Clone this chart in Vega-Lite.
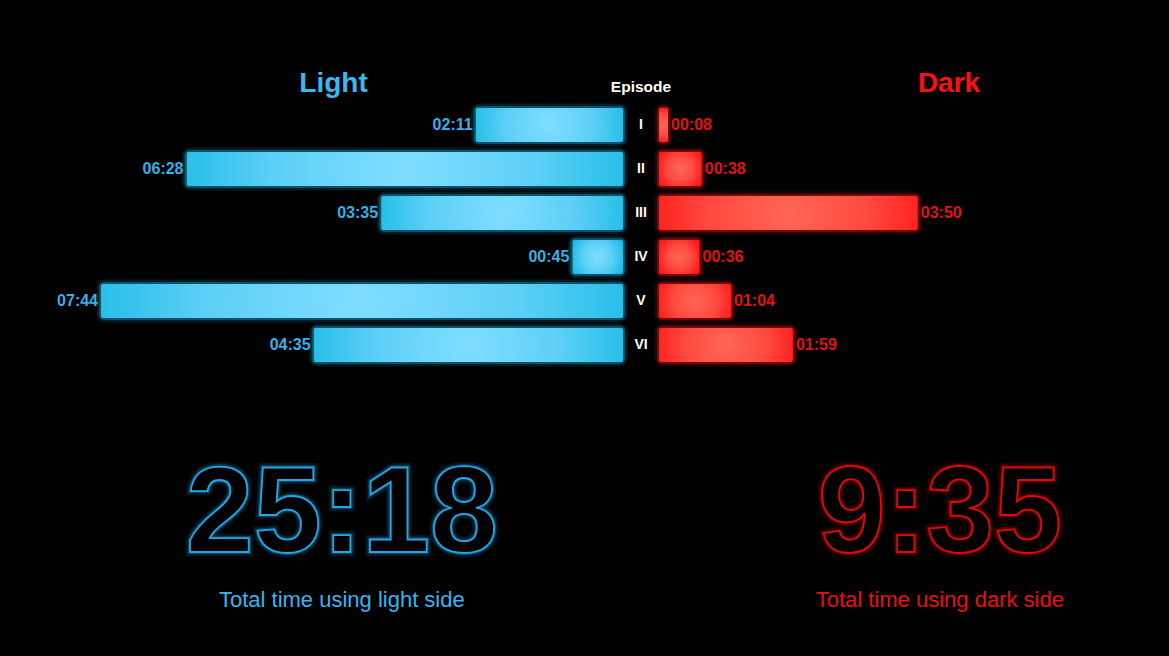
{
  "$schema": "https://vega.github.io/schema/vega-lite/v6.json",
  "background": "black",
  "padding": {"left": 38, "top": 70, "right": 0, "bottom": 0},
  "config": {
    "view": {"stroke": null},
    "font": "Liberation Sans",
    "title": {"fontWeight": "bold", "baseline": "alphabetic", "offset": 5, "anchor": "middle"}
  },
  "datasets": {
    "episodes": [
      {"episode": "I", "light": 131, "dark": 8, "light_time": "02:11", "dark_time": "00:08"},
      {"episode": "II", "light": 388, "dark": 38, "light_time": "06:28", "dark_time": "00:38"},
      {"episode": "III", "light": 215, "dark": 230, "light_time": "03:35", "dark_time": "03:50"},
      {"episode": "IV", "light": 45, "dark": 36, "light_time": "00:45", "dark_time": "00:36"},
      {"episode": "V", "light": 464, "dark": 64, "light_time": "07:44", "dark_time": "01:04"},
      {"episode": "VI", "light": 275, "dark": 119, "light_time": "04:35", "dark_time": "01:59"}
    ],
    "totals": [
      {"side": "Light", "total": "25:18", "caption": "Total time using light side"},
      {"side": "Dark", "total": "9:35", "caption": "Total time using dark side"}
    ]
  },
  "spacing": 0,
  "vconcat": [
    {
      "spacing": 0,
      "bounds": "flush",
      "hconcat": [
        {
          "width": 585,
          "height": 264,
          "data": {"name": "episodes"},
          "title": {"text": "Light", "color": "#3ab8f0", "fontSize": 28, "dx": 3},
          "encoding": {
            "y": {"field": "episode", "type": "nominal", "sort": null, "axis": null,
                  "scale": {"paddingInner": 0.23, "paddingOuter": 0.115}},
            "x": {"field": "light", "type": "quantitative", "axis": null,
                  "scale": {"domain": [0, 520], "reverse": true}}
          },
          "layer": [
            {"mark": {"type": "bar", "fillOpacity": 0, "stroke": "#1fb8ea", "strokeOpacity": 0.15, "strokeWidth": 9, "cornerRadius": 4}},
            {"mark": {"type": "bar", "fillOpacity": 0, "stroke": "#1fb8ea", "strokeOpacity": 0.35, "strokeWidth": 4, "cornerRadius": 3}},
            {"mark": {"type": "bar", "cornerRadius": 2,
              "color": {"gradient": "radial", "x1": 0.5, "y1": 0.5, "r1": 0, "x2": 0.5, "y2": 0.5, "r2": 0.55,
                "stops": [{"offset": 0, "color": "#80deff"}, {"offset": 0.55, "color": "#5ccff6"}, {"offset": 1, "color": "#1bbbe6"}]}}},
            {"mark": {"type": "text", "align": "right", "dx": -3, "baseline": "middle", "color": "#3aaee6", "fontWeight": "bold", "fontSize": 16},
             "encoding": {"text": {"field": "light_time"}}}
          ]
        },
        {
          "width": 36,
          "height": 264,
          "data": {"name": "episodes"},
          "title": {"text": "Episode", "color": "white", "fontSize": 15.5, "offset": 8},
          "mark": {"type": "text", "color": "white", "fontWeight": "bold", "fontSize": 14, "baseline": "middle"},
          "encoding": {
            "y": {"field": "episode", "type": "nominal", "sort": null, "axis": null,
                  "scale": {"paddingInner": 0.23, "paddingOuter": 0.115}},
            "text": {"field": "episode"}
          }
        },
        {
          "width": 450,
          "height": 264,
          "data": {"name": "episodes"},
          "title": {"text": "Dark", "color": "#ff1010", "fontSize": 28, "dx": 65},
          "encoding": {
            "y": {"field": "episode", "type": "nominal", "sort": null, "axis": null,
                  "scale": {"paddingInner": 0.23, "paddingOuter": 0.115}},
            "x": {"field": "dark", "type": "quantitative", "axis": null,
                  "scale": {"domain": [0, 400]}}
          },
          "layer": [
            {"mark": {"type": "bar", "fillOpacity": 0, "stroke": "#ff1a1a", "strokeOpacity": 0.15, "strokeWidth": 9, "cornerRadius": 4}},
            {"mark": {"type": "bar", "fillOpacity": 0, "stroke": "#ff1a1a", "strokeOpacity": 0.35, "strokeWidth": 4, "cornerRadius": 3}},
            {"mark": {"type": "bar", "cornerRadius": 2,
              "color": {"gradient": "radial", "x1": 0.5, "y1": 0.5, "r1": 0, "x2": 0.5, "y2": 0.5, "r2": 0.55,
                "stops": [{"offset": 0, "color": "#ff6656"}, {"offset": 0.55, "color": "#ff4a40"}, {"offset": 1, "color": "#ff1a1a"}]}}},
            {"mark": {"type": "text", "align": "left", "dx": 3, "baseline": "middle", "color": "#e01414", "fontWeight": "bold", "fontSize": 16},
             "encoding": {"text": {"field": "dark_time"}}}
          ]
        }
      ]
    },
    {
      "width": 1131,
      "height": 290,
      "data": {"name": "totals"},
      "encoding": {
        "x": {"field": "side", "type": "nominal", "sort": null, "axis": null,
              "scale": {"type": "point", "padding": 0.4457, "align": 0.57}}
      },
      "layer": [
        {"mark": {"type": "text", "fontSize": 122, "fontWeight": "bold", "baseline": "alphabetic", "dy": 40, "fill": "black", "strokeWidth": 9, "strokeOpacity": 0.12},
         "encoding": {"text": {"field": "total"},
           "stroke": {"field": "side", "type": "nominal", "legend": null, "scale": {"domain": ["Light", "Dark"], "range": ["#22a8e8", "#e00a0a"]}}}},
        {"mark": {"type": "text", "fontSize": 122, "fontWeight": "bold", "baseline": "alphabetic", "dy": 40, "fill": "black", "strokeWidth": 4.5, "strokeOpacity": 0.3},
         "encoding": {"text": {"field": "total"},
           "stroke": {"field": "side", "type": "nominal", "legend": null, "scale": {"domain": ["Light", "Dark"], "range": ["#22a8e8", "#e00a0a"]}}}},
        {"mark": {"type": "text", "fontSize": 122, "fontWeight": "bold", "baseline": "alphabetic", "dy": 40, "fill": "black", "strokeWidth": 1.8},
         "encoding": {"text": {"field": "total"},
           "stroke": {"field": "side", "type": "nominal", "legend": null, "scale": {"domain": ["Light", "Dark"], "range": ["#2ab2f0", "#f00c0c"]}}}},
        {"mark": {"type": "text", "fontSize": 22, "baseline": "alphabetic", "dy": 95},
         "encoding": {"text": {"field": "caption"},
           "fill": {"field": "side", "type": "nominal", "legend": null, "scale": {"domain": ["Light", "Dark"], "range": ["#3ab4f0", "#e81010"]}}}}
      ]
    }
  ]
}
